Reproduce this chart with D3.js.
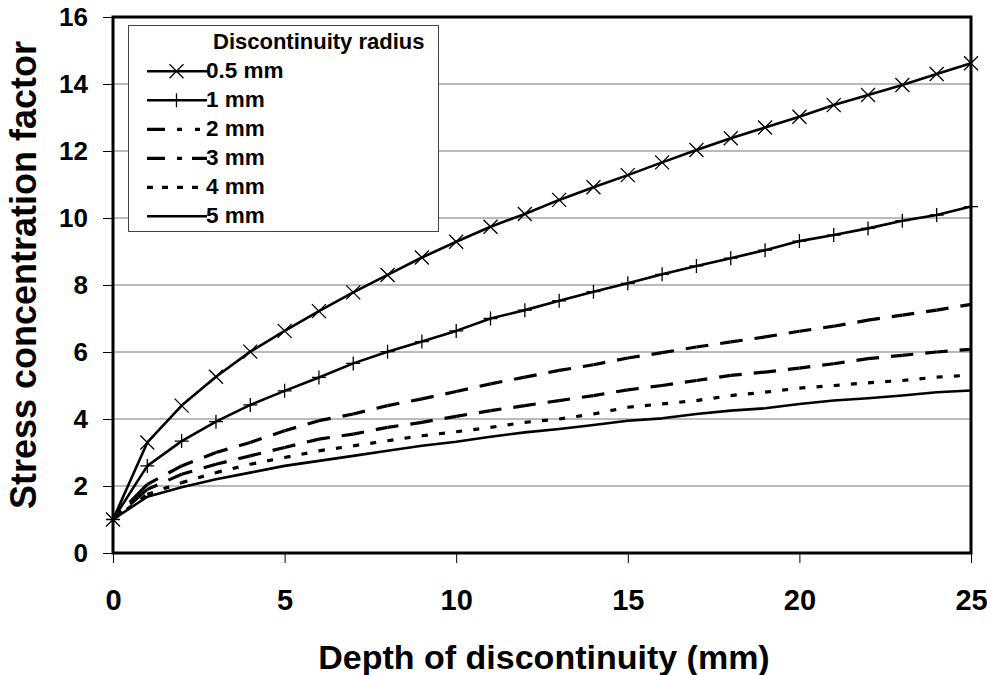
<!DOCTYPE html>
<html>
<head>
<meta charset="utf-8">
<script src="https://cdn.jsdelivr.net/npm/d3@7"></script>
<style>
  html, body { margin: 0; padding: 0; background: #fff; }
  svg { display: block; font-family: "Liberation Sans", Arial, sans-serif; font-weight: bold; }
</style>
</head>
<body>
<svg id="chart" width="987" height="675"></svg>
<script>
// ---- Data ----
const depths = d3.range(0, 26); // 0..25 mm
const r05 = [1, 3.3, 4.4, 5.26, 6.01, 6.63, 7.22, 7.78, 8.3, 8.82, 9.29, 9.74, 10.12, 10.54, 10.92, 11.28, 11.66, 12.03, 12.38, 12.7, 13.02, 13.37, 13.67, 13.97, 14.3, 14.62];
const r1 = [1, 2.6, 3.34, 3.92, 4.42, 4.84, 5.24, 5.66, 6.01, 6.31, 6.63, 7.0, 7.25, 7.53, 7.8, 8.05, 8.32, 8.57, 8.8, 9.04, 9.31, 9.49, 9.69, 9.92, 10.09, 10.34];
const r2 = [1, 2.05, 2.6, 3.0, 3.3, 3.65, 3.95, 4.15, 4.4, 4.6, 4.82, 5.05, 5.25, 5.45, 5.62, 5.82, 5.98, 6.15, 6.3, 6.45, 6.62, 6.77, 6.95, 7.1, 7.25, 7.42];
const r3 = [1, 1.9, 2.35, 2.65, 2.9, 3.15, 3.4, 3.55, 3.75, 3.9, 4.08, 4.25, 4.4, 4.55, 4.7, 4.87, 5.0, 5.15, 5.3, 5.4, 5.52, 5.65, 5.8, 5.9, 6.0, 6.08];
const r4 = [1, 1.75, 2.1, 2.4, 2.65, 2.85, 3.05, 3.2, 3.35, 3.5, 3.62, 3.75, 3.9, 4.0, 4.15, 4.35, 4.45, 4.55, 4.7, 4.8, 4.92, 5.0, 5.08, 5.15, 5.25, 5.31];
const r5 = [1, 1.68, 1.96, 2.2, 2.4, 2.6, 2.75, 2.9, 3.05, 3.2, 3.32, 3.47, 3.6, 3.7, 3.82, 3.95, 4.02, 4.15, 4.25, 4.32, 4.45, 4.55, 4.62, 4.7, 4.8, 4.85];
const seriesNames = ["0.5 mm", "1 mm", "2 mm", "3 mm", "4 mm", "5 mm"];
const seriesValues = [r05, r1, r2, r3, r4, r5];
const xTicks = [0, 5, 10, 15, 20, 25];
const yTicks = [0, 2, 4, 6, 8, 10, 12, 14, 16];
const legendTitle = "Discontinuity radius";
const xTitle = "Depth of discontinuity (mm)";
const yTitle = "Stress concentration factor";

// ---- Styles (dash pattern restarts on each segment, like the original) ----
const styles = [
  { dash: null, legendDash: null, width: 2.6, marker: "x" },
  { dash: null, legendDash: null, width: 2.6, marker: "+" },
  { dash: "12,12,40", legendDash: "18,12,5,13,5,13", width: 3.2, marker: null },
  { dash: "11,12,40", legendDash: "18,12,5,10", width: 3.2, marker: null },
  { dash: "6,11.2", legendDash: "6,9", width: 3.2, marker: null },
  { dash: null, legendDash: null, width: 2.6, marker: null }
];

const svg = d3.select("#chart");
const pLeft = 113, pRight = 971, pTop = 17, pBottom = 553;
const x = d3.scaleLinear().domain([0, 25]).range([pLeft, pRight]);
const y = d3.scaleLinear().domain([0, 16]).range([pBottom, pTop]);
const FONT = "Liberation Sans, Arial, sans-serif";

// gridlines
svg.append("g").selectAll("line").data(yTicks.filter(d => d > 0 && d < 16)).join("line")
  .attr("x1", pLeft).attr("x2", pRight)
  .attr("y1", d => y(d)).attr("y2", d => y(d))
  .attr("stroke", "#777").attr("stroke-width", 1);

// axes
const yAxis = d3.axisLeft(y).tickValues(yTicks).tickSize(10).tickPadding(15).tickFormat(d3.format("d"));
const gy = svg.append("g").attr("transform", `translate(${pLeft},0)`).call(yAxis);
gy.select(".domain").remove();
gy.selectAll("line").attr("stroke", "#000").attr("stroke-width", 1);
gy.selectAll("text").attr("font-size", 26).attr("font-weight", "bold").attr("fill", "#000")
  .attr("font-family", FONT);

const xAxis = d3.axisBottom(x).tickValues(xTicks).tickSize(10).tickPadding(26).tickFormat(d3.format("d"));
const gx = svg.append("g").attr("transform", `translate(0,${pBottom})`).call(xAxis);
gx.select(".domain").remove();
gx.selectAll("line").attr("stroke", "#000").attr("stroke-width", 1);
gx.selectAll("text").attr("font-size", 29).attr("font-weight", "bold").attr("fill", "#000")
  .attr("font-family", FONT);

// frame
svg.append("rect").attr("x", pLeft).attr("y", pTop).attr("width", pRight - pLeft).attr("height", pBottom - pTop)
  .attr("fill", "none").attr("stroke", "#000").attr("stroke-width", 3);

// lines
const plot = svg.append("g");
seriesValues.forEach((vals, k) => {
  const st = styles[k];
  const pts = vals.map((v, i) => [x(depths[i]), y(v)]);
  if (!st.dash) {
    plot.append("path").attr("d", d3.line()(pts))
      .attr("fill", "none").attr("stroke", "#000").attr("stroke-width", st.width)
      .attr("stroke-linejoin", "round");
  } else {
    plot.append("g").selectAll("line").data(d3.pairs(pts)).join("line")
      .attr("x1", d => d[0][0]).attr("y1", d => d[0][1])
      .attr("x2", d => d[1][0]).attr("y2", d => d[1][1])
      .attr("stroke", "#000").attr("stroke-width", st.width)
      .attr("stroke-dasharray", st.dash);
  }
});

function drawMarker(g, type, cx, cy) {
  const s = 7;
  if (type === "x") {
    g.append("path").attr("d", `M${cx - s},${cy - s}L${cx + s},${cy + s}M${cx - s},${cy + s}L${cx + s},${cy - s}`)
      .attr("stroke", "#000").attr("stroke-width", 1.3).attr("fill", "none");
  } else if (type === "+") {
    g.append("path").attr("d", `M${cx - s},${cy}L${cx + s},${cy}M${cx},${cy - s}L${cx},${cy + s}`)
      .attr("stroke", "#000").attr("stroke-width", 1.3).attr("fill", "none");
  }
}
seriesValues.forEach((vals, k) => {
  const st = styles[k];
  if (!st.marker) return;
  const g = plot.append("g");
  vals.forEach((v, i) => drawMarker(g, st.marker, x(depths[i]), y(v)));
});

// legend
const lg = svg.append("g");
lg.append("rect").attr("x", 128.5).attr("y", 25.5).attr("width", 310).attr("height", 206)
  .attr("fill", "#fff").attr("stroke", "#444").attr("stroke-width", 1);
lg.append("text").attr("x", 213).attr("y", 49).attr("font-size", 22).attr("fill", "#000").text(legendTitle);
seriesNames.forEach((name, k) => {
  const st = styles[k];
  const base = 78.3 + k * 29;
  const cy = base - 7;
  lg.append("line").attr("x1", 147).attr("x2", 207).attr("y1", cy).attr("y2", cy)
    .attr("stroke", "#000").attr("stroke-width", st.width).attr("stroke-dasharray", st.legendDash);
  if (st.marker) drawMarker(lg, st.marker, 176.5, cy);
  lg.append("text").attr("x", 206).attr("y", base).attr("font-size", 22.5).attr("fill", "#000").text(name);
});

// titles
svg.append("text").attr("x", 544).attr("y", 669).attr("text-anchor", "middle")
  .attr("font-size", 34).attr("fill", "#000").text(xTitle);
svg.append("text").attr("transform", `translate(36,275) rotate(-90)`)
  .attr("text-anchor", "middle").attr("font-size", 36).attr("fill", "#000").text(yTitle);
</script>
</body>
</html>
